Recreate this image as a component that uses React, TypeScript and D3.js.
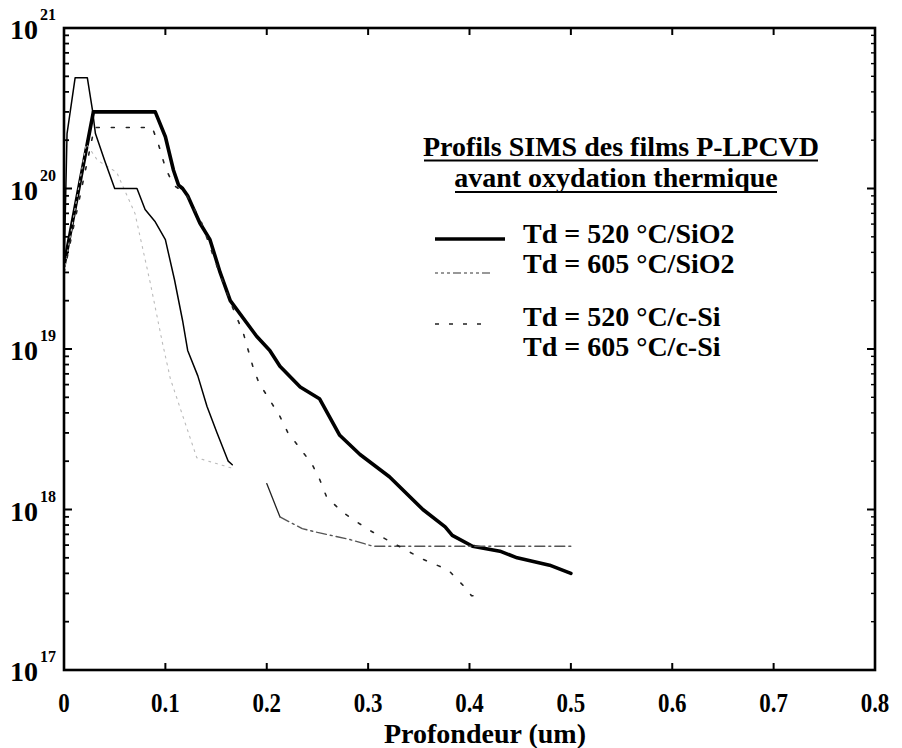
import React from "react";
import * as d3 from "d3";

// ---- Data (depth in µm, concentration in cm^-3) ----
const seriesNames = [
  "Td = 520 °C/SiO2",
  "Td = 605 °C/SiO2",
  "Td = 520 °C/c-Si",
  "Td = 605 °C/c-Si",
];

// thick solid
const td520SiO2: [number, number][] = [
  [0, 3.3e19], [0.029, 3e20], [0.09, 3e20], [0.1, 2.1e20], [0.108, 1.3e20],
  [0.113, 1.05e20], [0.117, 1e20], [0.122, 9e19], [0.134, 6.1e19], [0.144, 4.8e19],
  [0.154, 3e19], [0.164, 2e19], [0.19, 1.2e19], [0.203, 9.8e18], [0.213, 7.8e18],
  [0.233, 5.8e18], [0.252, 4.9e18], [0.272, 2.9e18], [0.292, 2.2e18], [0.321, 1.6e18],
  [0.354, 1e18], [0.376, 7.8e17], [0.383, 6.9e17], [0.403, 5.9e17], [0.43, 5.5e17],
  [0.447, 5e17], [0.479, 4.5e17], [0.5, 4e17],
];

// faint dash-dot
const td605SiO2: [number, number][] = [
  [0, 3e19], [0.022, 1.9e20], [0.033, 1.5e20], [0.052, 1.26e20], [0.07, 7e19],
  [0.085, 2.6e19], [0.097, 1.1e19], [0.105, 6.5e18], [0.131, 2.1e18], [0.167, 1.8e18],
  [0.2, 1.45e18], [0.213, 9e17], [0.235, 7.6e17], [0.25, 7.2e17], [0.282, 6.5e17],
  [0.305, 5.9e17], [0.5, 5.9e17],
];

// dotted
const td520cSi: [number, number][] = [
  [0, 3e19], [0.03, 2.4e20], [0.087, 2.4e20], [0.093, 1.9e20], [0.1, 1.35e20],
  [0.108, 1.05e20], [0.12, 9.3e19], [0.135, 6.3e19], [0.15, 3.4e19], [0.165, 1.9e19],
  [0.177, 1.25e19], [0.186, 7.9e18], [0.192, 6.2e18], [0.203, 4.8e18], [0.213, 3.8e18],
  [0.221, 3e18], [0.233, 2.4e18], [0.245, 1.9e18], [0.252, 1.55e18], [0.259, 1.2e18],
  [0.274, 9.7e17], [0.3, 7.5e17], [0.354, 4.9e17], [0.379, 4.2e17], [0.395, 3.3e17],
  [0.402, 2.9e17], [0.412, 2.9e17],
];

// thin solid
const td605cSi: [number, number][] = [
  [0, 3e19], [0.003, 2.2e20], [0.011, 4.9e20], [0.023, 4.9e20], [0.028, 3.1e20],
  [0.031, 2.2e20], [0.04, 1.5e20], [0.05, 1e20], [0.072, 1e20], [0.08, 7.4e19],
  [0.09, 6.2e19], [0.1, 4.8e19], [0.109, 2.7e19], [0.117, 1.5e19], [0.122, 9.8e18],
  [0.132, 6.8e18], [0.141, 4.4e18], [0.151, 3e18], [0.162, 2e18], [0.166, 1.9e18],
];

const xTicks = [0, 0.1, 0.2, 0.3, 0.4, 0.5, 0.6, 0.7, 0.8];
const xTickLabels = ["0", "0.1", "0.2", "0.3", "0.4", "0.5", "0.6", "0.7", "0.8"];
const yDecades = [17, 18, 19, 20, 21];

const titleLines = ["Profils SIMS des films P-LPCVD", "avant oxydation thermique"];
const xLabel = "Profondeur (um)";

export default function App() {
  const left = 64, right = 875, top = 28, bottom = 670;
  const x = d3.scaleLinear().domain([0, 0.8]).range([left, right]);
  const y = d3.scaleLog().domain([1e17, 1e21]).range([bottom, top]);
  const line = d3
    .line<[number, number]>()
    .x((d) => x(d[0]))
    .y((d) => y(d[1]));

  const font = "'Liberation Serif', 'Times New Roman', serif";

  const minorTicks: number[] = [];
  for (let e = 17; e < 21; e++) {
    for (let m = 2; m <= 9; m++) minorTicks.push(m * Math.pow(10, e));
  }

  // the 605/SiO2 profile is printed faintly in its upper part
  const dUpper = td605SiO2.filter((d) => d[0] <= 0.167);
  const dMid = td605SiO2.filter((d) => d[0] >= 0.2 && d[0] <= 0.213);
  const dLow = td605SiO2.filter((d) => d[0] >= 0.213);

  const paths = [
    { data: td520SiO2, stroke: "#000", width: 3.6, dash: "" },
    { data: dUpper, stroke: "#bbb", width: 1.1, dash: "2,5" },
    { data: dMid, stroke: "#222", width: 1.3, dash: "" },
    { data: dLow, stroke: "#555", width: 1.4, dash: "10,4,2,4" },
    { data: td520cSi, stroke: "#222", width: 1.6, dash: "3,12" },
    { data: td605cSi, stroke: "#000", width: 1.5, dash: "" },
  ];

  const legendStyles = [
    { stroke: "#000", width: 3.6, dash: "", x2: 505 },
    { stroke: "#777", width: 1.3, dash: "3,3,3,3,3,3,8,3", x2: 490 },
    { stroke: "#222", width: 1.6, dash: "4,10", x2: 482 },
  ];

  const legendY = [239, 273, 324, 354];
  const legendTextY = [243, 273, 326, 356];

  return (
    <svg
      width={902}
      height={748}
      style={{ position: "absolute", left: 0, top: 0, background: "#fff" }}
      fontFamily={font}
    >
      <rect x={0} y={0} width={902} height={748} fill="#fff" />
      <defs>
        <clipPath id="plot">
          <rect x={left} y={top} width={right - left} height={bottom - top} />
        </clipPath>
      </defs>

      {/* series */}
      <g clipPath="url(#plot)">
        {paths.map((s, i) => (
          <path
            key={i}
            d={line(s.data) || ""}
            fill="none"
            stroke={s.stroke}
            strokeWidth={s.width}
            strokeDasharray={s.dash || undefined}
            strokeLinejoin="round"
            strokeLinecap="round"
          />
        ))}
      </g>

      {/* frame */}
      <rect
        x={left}
        y={top}
        width={right - left}
        height={bottom - top}
        fill="none"
        stroke="#000"
        strokeWidth={2.6}
      />

      {/* x ticks */}
      {xTicks.slice(1, -1).map((t) => (
        <g key={"xt" + t}>
          <line x1={x(t)} x2={x(t)} y1={bottom} y2={bottom - 7} stroke="#000" strokeWidth={2} />
          <line x1={x(t)} x2={x(t)} y1={top} y2={top + 7} stroke="#000" strokeWidth={2} />
        </g>
      ))}
      {xTicks.map((t, i) => (
        <text
          key={"xl" + t}
          transform={`translate(${x(t)},712) scale(0.82,1)`}
          textAnchor="middle"
          fontSize={28}
          fontWeight="bold"
        >
          {xTickLabels[i]}
        </text>
      ))}
      <text x={485} y={743} textAnchor="middle" fontSize={28} fontWeight="bold">
        {xLabel}
      </text>

      {/* y ticks */}
      {yDecades.slice(1, -1).map((e) => (
        <g key={"yt" + e}>
          <line x1={left} x2={left + 8} y1={y(Math.pow(10, e))} y2={y(Math.pow(10, e))} stroke="#000" strokeWidth={2} />
          <line x1={right} x2={right - 8} y1={y(Math.pow(10, e))} y2={y(Math.pow(10, e))} stroke="#000" strokeWidth={2} />
        </g>
      ))}
      {minorTicks.map((v, i) => (
        <g key={"ym" + i}>
          <line x1={left} x2={left + 5} y1={y(v)} y2={y(v)} stroke="#000" strokeWidth={1.8} />
          <line x1={right} x2={right - 4} y1={y(v)} y2={y(v)} stroke="#000" strokeWidth={1.4} />
        </g>
      ))}
      {yDecades.map((e) => {
        const yy = y(Math.pow(10, e));
        return (
          <g key={"yl" + e} fontWeight="bold">
            <text x={38} y={yy + 11} textAnchor="end" fontSize={28}>
              10
            </text>
            <text x={40} y={yy - 8} fontSize={16}>
              {String(e)}
            </text>
          </g>
        );
      })}

      {/* title */}
      <g fontWeight="bold" fontSize={28} textAnchor="middle">
        <text x={621} y={156}>{titleLines[0]}</text>
        <text x={616} y={187}>{titleLines[1]}</text>
      </g>
      <line x1={424} x2={818} y1={160.5} y2={160.5} stroke="#000" strokeWidth={2} />
      <line x1={455} x2={777} y1={192} y2={192} stroke="#000" strokeWidth={2} />

      {/* legend */}
      {seriesNames.map((n, i) => (
        <g key={"lg" + i}>
          {i < 3 && (
            <line
              x1={435}
              x2={legendStyles[i].x2}
              y1={legendY[i]}
              y2={legendY[i]}
              stroke={legendStyles[i].stroke}
              strokeWidth={legendStyles[i].width}
              strokeDasharray={legendStyles[i].dash || undefined}
            />
          )}
          <text x={523} y={legendTextY[i]} fontSize={28} fontWeight="bold">
            {n}
          </text>
        </g>
      ))}
    </svg>
  );
}
